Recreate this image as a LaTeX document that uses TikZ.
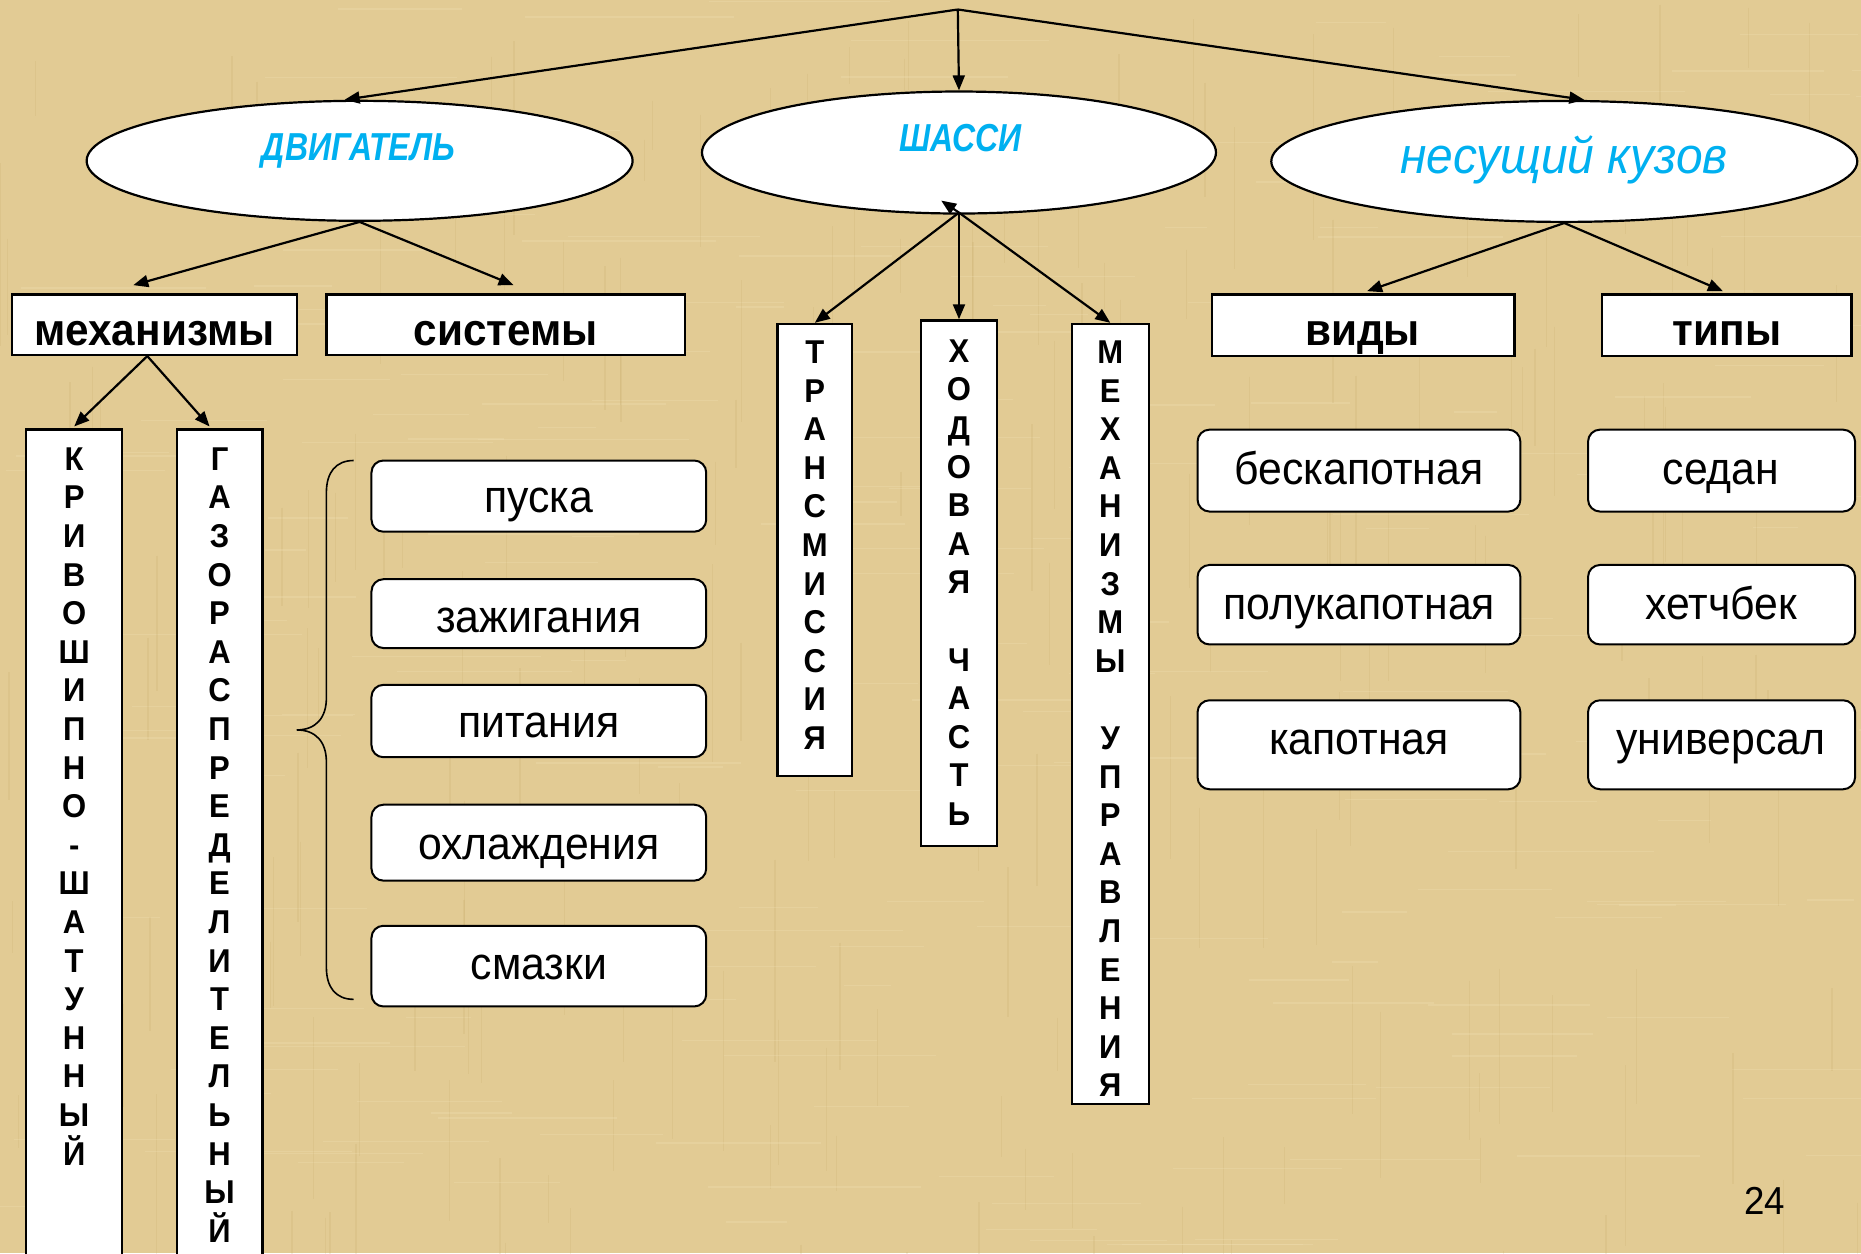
\documentclass[tikz,border=0pt]{standalone}
\usepackage{fontspec}
\setmainfont{Liberation Sans}[FakeStretch=0.94]
\newfontfamily\narrowfont{Liberation Sans}[FakeStretch=0.82]
\usetikzlibrary{arrows.meta,fit,shapes.geometric}
\definecolor{parch}{RGB}{226,203,148}
\definecolor{parchdark}{RGB}{190,160,95}
\definecolor{parchlight}{RGB}{240,225,180}
\definecolor{cyanT}{RGB}{0,176,240}
\begin{document}
\begin{tikzpicture}[x=1.1869pt,y=-1.1869pt,
  conn/.style={line width=2.2pt,-{Triangle[length=15pt,width=12pt]}},
  sqbox/.style={draw,line width=2.4pt,fill=white,inner sep=0pt},
  rbox/.style={draw,line width=2pt,fill=white,rounded corners=12pt,inner sep=0pt},
  oval/.style={draw,ellipse,line width=2.2pt,fill=white,inner sep=0pt},
  head/.style={font=\fontsize{45}{45}\selectfont\bfseries,anchor=base,inner sep=0pt},
  item/.style={font=\fontsize{45.5}{45.5}\selectfont,anchor=base,inner sep=0pt},
  vert/.style={font=\fontsize{33}{38.6}\selectfont\bfseries,align=center,anchor=north,inner sep=0pt},
  oltxt/.style={font=\narrowfont\fontsize{39}{39}\selectfont\bfseries\itshape,text=cyanT,anchor=base,inner sep=0pt}
]
\useasboundingbox (0,0) rectangle (1568,1056);
\begin{scope}
\clip (0,0) rectangle (1568,1056);
\fill[parch] (0,0) rectangle (1568,1056);
\pgfmathsetseed{7}
\foreach \i in {1,...,220}{
  \pgfmathsetmacro\xx{rnd*1568}\pgfmathsetmacro\yy{rnd*1056}\pgfmathsetmacro\ll{30+rnd*150}
  \draw[parchdark,opacity=0.16,line width=1.3pt] (\xx,\yy) -- ++(0,\ll);
  \pgfmathsetmacro\xx{rnd*1568}\pgfmathsetmacro\yy{rnd*1056}\pgfmathsetmacro\ll{30+rnd*150}
  \draw[parchlight,opacity=0.3,line width=1.3pt] (\xx,\yy) -- ++(\ll,0);
}
\end{scope}

% ellipses
\node[oval,minimum width=546pt,minimum height=120pt] (dvig) at (303,135.5) {};
\node[oval,minimum width=514pt,minimum height=122pt] (shassi) at (808,128.5) {};
\node[oval,minimum width=586pt,minimum height=121pt] (kuzov) at (1318,136) {};
\node[oltxt] (tdvig) at (302,135.5) {ДВИГАТЕЛЬ};
\node[oltxt] (tshassi) at (809,127.5) {ШАССИ};
\node[oltxt,font=\fontsize{51}{51}\selectfont\itshape] (tkuzov) at (1318,146.5) {несущий кузов};

% header boxes
\node[sqbox,fit={(10,248)(250,299)}] (mech) {};
\node[sqbox,fit={(275,248)(577,299)}] (sist) {};
\node[sqbox,fit={(1021,248)(1276,300)}] (vidy) {};
\node[sqbox,fit={(1350,248)(1560,300)}] (tipy) {};
\node[head] (tmech) at (130,291) {механизмы};
\node[head] (tsist) at (426,291) {системы};
\node[head] (tvidy) at (1148,291) {виды};
\node[head] (ttipy) at (1455,291) {типы};

% vertical boxes
\node[sqbox,fit={(22,362)(103,1075)}] (krivo) {};
\node[sqbox,fit={(149,362)(221,1075)}] (gazo) {};
\node[sqbox,fit={(655,273)(718,654)}] (trans) {};
\node[sqbox,fit={(776,270)(840,713)}] (hod) {};
\node[sqbox,fit={(903,273)(968,930)}] (mupr) {};
\node[vert] (tkrivo) at (62.5,377) {К\\Р\\И\\В\\О\\Ш\\И\\П\\Н\\О\\-\\Ш\\А\\Т\\У\\Н\\Н\\Ы\\Й};
\node[vert] (tgazo) at (185,377) {Г\\А\\З\\О\\Р\\А\\С\\П\\Р\\Е\\Д\\Е\\Л\\И\\Т\\Е\\Л\\Ь\\Н\\Ы\\Й};
\node[vert] (ttrans) at (686.5,287) {Т\\Р\\А\\Н\\С\\М\\И\\С\\С\\И\\Я};
\node[vert] (thod) at (808,286) {Х\\О\\Д\\О\\В\\А\\Я\\~\\Ч\\А\\С\\Т\\Ь};
\node[vert] (tmupr) at (935.5,287) {М\\Е\\Х\\А\\Н\\И\\З\\М\\Ы\\~\\У\\П\\Р\\А\\В\\Л\\Е\\Н\\И\\Я};

% rounded boxes
\node[rbox,fit={(313,388)(595,448)}] (pusk) {};
\node[rbox,fit={(313,488)(595,546)}] (zazh) {};
\node[rbox,fit={(313,577)(595,638)}] (pit) {};
\node[rbox,fit={(313,678)(595,742)}] (ohl) {};
\node[rbox,fit={(313,780)(595,848)}] (smaz) {};
\node[rbox,fit={(1009,362)(1281,431)}] (besk) {};
\node[rbox,fit={(1009,476)(1281,543)}] (poluk) {};
\node[rbox,fit={(1009,590)(1281,665)}] (kap) {};
\node[rbox,fit={(1338,362)(1563,431)}] (sedan) {};
\node[rbox,fit={(1338,476)(1563,543)}] (hetch) {};
\node[rbox,fit={(1338,590)(1563,665)}] (univ) {};
\node[item] (tpusk) at (454,431.5) {пуска};
\node[item] (tzazh) at (454,533) {зажигания};
\node[item] (tpit) at (454,621) {питания};
\node[item] (tohl) at (454,724) {охлаждения};
\node[item] (tsmaz) at (454,825) {смазки};
\node[item] (tbesk) at (1145,408) {бескапотная};
\node[item] (tpoluk) at (1145,522) {полукапотная};
\node[item] (tkap) at (1145,636) {капотная};
\node[item] (tsedan) at (1450,408) {седан};
\node[item] (thetch) at (1450,522) {хетчбек};
\node[item] (tuniv) at (1450,636) {универсал};

% brace
\draw[line width=1.6pt] (298,388) .. controls (283,388) and (275,398) .. (275,415) -- (275,588) .. controls (275,605) and (266,615) .. (250,615) .. controls (266,615) and (275,625) .. (275,642) -- (275,815) .. controls (275,832) and (283,842) .. (298,842);

% connectors
\coordinate (apex) at (807,8);
\draw[conn] (apex) -- ([xshift=-15pt]dvig.north);
\draw[conn] (apex) -- (shassi.north);
\draw[conn] (apex) -- ([xshift=20pt]kuzov.north);
\draw[conn] (dvig.south) -- ([xshift=-21pt,yshift=8pt]mech.north);
\draw[conn] (dvig.south) -- ([xshift=8pt,yshift=8pt]sist.north);
\coordinate (mj) at ([xshift=-7pt]mech.south);
\draw[conn] (mj) -- ([yshift=2pt]krivo.north);
\draw[conn] (mj) -- ([xshift=-10pt,yshift=2pt]gazo.north);
\coordinate (sj) at ([yshift=2pt]shassi.south);
\coordinate (stray) at (793,169);
\draw[conn] (sj) -- (stray);
\draw[conn] (sj) -- (trans.north);
\draw[conn] (sj) -- (hod.north);
\draw[conn] (sj) -- (mupr.north);
\draw[conn] (kuzov.south) -- ([xshift=4pt,yshift=2pt]vidy.north);
\draw[conn] (kuzov.south) -- ([xshift=-4pt,yshift=2pt]tipy.north);

\node[font=\fontsize{39}{39}\selectfont,anchor=base,inner sep=0pt] (pnum) at (1487,1023) {24};
\end{tikzpicture}
\end{document}
